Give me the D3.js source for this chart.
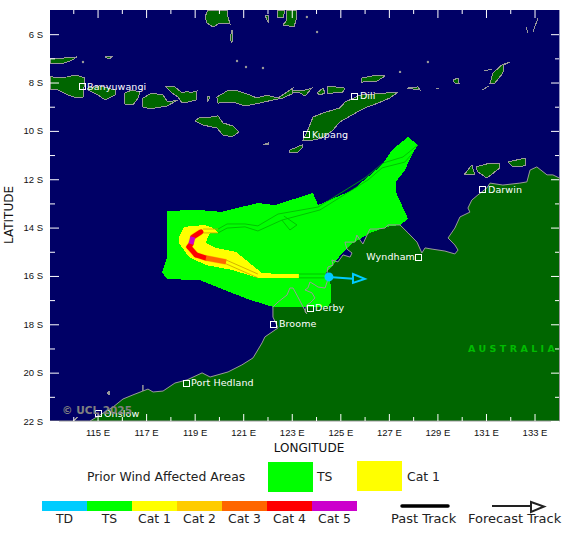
<!DOCTYPE html>
<html>
<head>
<meta charset="utf-8">
<script src="https://cdn.jsdelivr.net/npm/d3@7"></script>
<style>
  body { margin: 0; background: #fff; }
  svg { display: block; font-family: "DejaVu Sans", sans-serif; }
  .land { fill: #006600; stroke: #999; stroke-width: 1; shape-rendering: crispEdges; }
  .tick-white line { stroke: #fff; }
  .tick-white text { fill: #111; font-size: 9.5px; }
  .tick-white path { stroke: none; }
  .city { fill: #fff; font-size: 9.5px; letter-spacing: 0.1px; }
</style>
</head>
<body>
<div id="chart"></div>
<script>
const width = 580;
const height = 534;

// lon, lat pairs
const mainland = [[134,-11.95],[133.73,-11.82],[133.49,-11.82],[133.07,-11.49],[132.79,-11.62],[132.66,-12.11],[132.37,-12.16],[131.67,-12.24],[131.14,-12.16],[131.01,-12.36],[130.64,-12.65],[130.39,-12.86],[130.23,-13.19],[130.31,-13.36],[129.90,-13.56],[129.69,-14.02],[129.41,-14.43],[129.69,-14.72],[129.82,-14.93],[129.69,-15.09],[129.28,-14.97],[128.75,-14.89],[128.46,-14.84],[128.33,-15.05],[128.13,-14.60],[127.76,-14.22],[127.43,-13.89],[126.93,-13.89],[126.81,-14.02],[126.48,-14.06],[126.19,-14.06],[126.11,-14.22],[125.90,-14.68],[125.78,-14.51],[125.65,-14.31],[125.57,-14.60],[125.16,-14.60],[125.24,-14.89],[125.45,-15.05],[125.37,-15.22],[125.08,-15.13],[124.87,-15.42],[124.62,-15.34],[124.67,-15.55],[124.46,-15.63],[124.42,-15.88],[124.50,-16.04],[124.42,-16.25],[124.34,-16.50],[124.05,-16.46],[123.92,-16.37],[123.72,-16.25],[123.63,-16.50],[123.51,-16.58],[123.80,-16.70],[123.92,-16.91],[123.72,-17.12],[123.59,-17.20],[123.51,-17.49],[123.59,-17.57],[123.39,-17.20],[123.22,-16.87],[123.02,-16.50],[122.89,-16.50],[122.77,-16.79],[122.40,-17.08],[122.19,-17.28],[122.19,-17.70],[122.40,-18.15],[121.86,-18.52],[121.74,-18.77],[121.37,-19.39],[120.91,-19.68],[120.34,-19.97],[119.60,-20.18],[119.27,-20.01],[118.65,-20.30],[118.15,-20.43],[117.66,-20.76],[117.25,-20.80],[117.04,-20.68],[116.83,-20.76],[116.83,-20.51],[116.83,-20.76],[116.42,-20.92],[116.01,-21.09],[115.60,-21.42],[115.06,-21.75],[114.65,-22],[134,-22]];

const islands = [
  [[113,-6.99],[113.54,-6.99],[114.11,-6.94],[113.91,-7.07],[113.62,-7.19],[113,-7.23]],
  [[115.27,-6.94],[115.43,-6.90],[115.56,-6.94],[115.43,-7.03]],
  [[113,-7.73],[113.21,-7.81],[113.70,-7.77],[114.07,-7.69],[114.44,-7.81],[114.36,-8.60],[114.11,-8.64],[113.74,-8.52],[113.33,-8.31],[113,-8.27]],
  [[114.53,-8.23],[115.06,-8.14],[115.68,-8.31],[115.68,-8.52],[115.27,-8.72],[114.98,-8.52],[114.57,-8.31]],
  [[116.09,-8.43],[116.38,-8.31],[116.71,-8.39],[116.63,-8.64],[116.42,-8.93],[116.09,-8.89],[116.05,-8.64]],
  [[116.83,-8.64],[117.20,-8.43],[117.66,-8.52],[117.86,-8.81],[118.28,-8.72],[117.82,-8.97],[117.12,-9.09],[116.83,-9.01]],
  [[117.78,-8.18],[118.15,-8.18],[118.44,-8.43],[118.69,-8.35],[118.77,-8.43],[119.06,-8.35],[119.02,-8.72],[118.69,-8.81],[118.44,-8.85],[118.28,-8.60],[118.03,-8.43]],
  [[119.88,-8.60],[120.30,-8.35],[120.75,-8.35],[121.24,-8.52],[121.53,-8.64],[121.94,-8.52],[122.40,-8.64],[122.77,-8.39],[123.02,-8.23],[122.98,-8.47],[122.60,-8.64],[122.19,-8.72],[121.66,-8.85],[121.04,-8.97],[120.54,-8.81],[119.93,-8.85]],
  [[119.49,-8.56],[119.60,-8.60],[119.50,-8.77]],
  [[122.98,-8.31],[123.39,-8.35],[123.80,-8.23],[123.51,-8.56],[123.31,-8.43],[122.98,-8.43]],
  [[124.01,-8.43],[124.25,-8.23],[124.34,-8.43],[124.13,-8.52]],
  [[124.46,-8.18],[124.75,-8.18],[125.16,-8.23],[125.08,-8.39],[124.67,-8.43],[124.46,-8.47]],
  [[118.98,-9.59],[119.18,-9.43],[119.60,-9.43],[119.93,-9.38],[120.13,-9.67],[120.54,-9.80],[120.79,-10.05],[120.50,-10.25],[120.13,-10.17],[119.88,-9.88],[119.31,-9.76]],
  [[121.78,-10.58],[121.99,-10.50],[121.99,-10.58]],
  [[119.51,-5],[120.30,-5],[120.34,-5.29],[120.42,-5.58],[120.01,-5.54],[119.72,-5.70],[119.47,-5.54],[119.39,-5.29]],
  [[121.86,-5.21],[122.03,-5.21],[121.99,-5.50]],
  [[122.40,-5],[122.69,-5],[122.60,-5.33],[122.36,-5.33]],
  [[122.77,-5],[123.14,-5],[123.18,-5.29],[123.06,-5.70],[122.60,-5.62],[122.77,-5.41]],
  [[120.50,-5.83],[120.54,-5.95],[120.50,-6.36],[120.42,-6.20]],
  [[125.86,-7.81],[126.48,-7.69],[126.81,-7.73],[126.48,-7.94],[125.86,-7.98]],
  [[127.72,-8.23],[128.17,-8.18],[128.25,-8.31]],
  [[128.91,-8.23],[129.03,-8.27]],
  [[129.61,-7.90],[129.82,-7.81],[129.86,-8.02],[129.69,-8.02]],
  [[131.14,-8.02],[131.26,-7.61],[131.63,-7.27],[131.96,-7.15],[131.71,-7.27],[131.67,-7.61],[131.34,-8.02]],
  [[130.89,-7.52],[131.22,-7.44]],
  [[130.81,-8.31],[131.10,-8.14]],
  [[132.62,-5.70],[132.70,-5.95]],
  [[133.12,-5.33],[132.91,-5.91]],
  [[123.63,-9.96],[123.84,-9.43],[124.25,-9.26],[124.95,-9.05],[125.16,-8.81],[125.78,-8.52],[126.89,-8.43],[127.30,-8.43],[127.01,-8.64],[126.52,-8.85],[125.98,-9.05],[125.45,-9.34],[124.95,-9.63],[124.67,-9.96],[124.25,-10.29],[123.84,-10.38],[123.43,-10.38]],
  [[122.89,-10.79],[123.39,-10.58],[123.39,-10.71],[123.18,-10.91],[122.89,-10.91]],
  [[130.07,-11.82],[130.39,-11.41],[130.52,-11.82]],
  [[130.56,-11.49],[131.14,-11.33],[131.55,-11.33],[131.55,-11.53],[131.01,-11.95],[130.64,-11.70]],
  [[131.88,-11.29],[132.25,-11.20],[132.58,-11.12],[132.62,-11.41],[132.37,-11.49],[132.08,-11.49]],
  [[115.35,-20.84],[115.47,-20.76],[115.47,-20.92]],
  [[113.95,-22],[114.15,-21.83],[114.05,-21.95]]
];

const specks = [[114.36,-7.15],[121.78,-7.40],[121.08,-7.36],[120.71,-7.11],[128.58,-7.15],[127.43,-7.56],[123.59,-5.29],[124.01,-5.91]];

// prior wind affected areas
const swathTS = [[117.82,-13.31],[119.10,-13.27],[120.09,-13.35],[121.57,-12.98],[122.27,-13.07],[123.84,-12.57],[124.05,-13.07],[125.49,-12.44],[125.86,-12.11],[126.69,-11.41],[127.10,-10.79],[127.76,-10.25],[128.17,-10.58],[127.96,-10.91],[127.63,-11.62],[127.26,-12.11],[127.26,-12.53],[127.76,-13.64],[127.43,-13.89],[126.89,-13.97],[126.19,-14.22],[125.49,-14.64],[125.04,-15.05],[124.67,-15.55],[124.38,-15.88],[124.58,-16.37],[124.58,-17.08],[124.46,-17.28],[123.30,-17.28],[122.19,-17.28],[121.24,-16.99],[119.88,-16.46],[119.18,-16.17],[117.82,-16.13],[117.62,-15.84],[117.82,-15.26]];
const swathCat1 = [[118.52,-13.97],[119.39,-13.89],[119.72,-14.02],[119.93,-14.22],[119.60,-14.22],[119.51,-14.39],[119.43,-14.64],[119.84,-14.84],[120.67,-15.01],[121.74,-15.88],[123.22,-15.96],[123.22,-16.08],[121.57,-16.08],[120.50,-15.75],[119.43,-15.55],[118.73,-15.22],[118.32,-14.64],[118.32,-14.39]];

// thin outlines of the earlier track corridor
const corridorNorth = [[119.93,-14.06],[120.30,-13.85],[121.04,-13.85],[121.57,-13.93],[122.40,-13.44],[124.05,-13.15],[125.98,-11.95],[126.73,-11.33],[127.55,-11.08],[128.17,-10.58]];
const corridorSouth = [[119.93,-14.22],[120.30,-14.02],[121.04,-13.97],[121.57,-14.14],[122.56,-13.69],[124.13,-13.27],[126.11,-12.03],[126.69,-11.53],[127.63,-11.29],[127.96,-10.91]];
const corridorSpur = [[122.56,-13.69],[122.89,-14.10],[123.18,-13.89],[122.64,-13.52]];
const corridorTS = [[[123.26,-15.92],[124.42,-15.92]],[[123.26,-16.08],[124.42,-16.08]]];
const corridorCat = [[[119.31,-14.06],[119.93,-14.06]],[[119.31,-14.22],[119.93,-14.22]],[[120.26,-15.34],[121.57,-15.92]],[[120.26,-15.50],[121.57,-16.08]]];

// past track, one entry per stretch
const trackPoints = [[119.22,-14.18],[118.89,-14.39],[118.81,-14.68],[118.73,-14.80],[119.02,-15.13],[119.43,-15.26],[120.26,-15.42]];
const trackCats = ["Cat 4","Cat 5","Cat 4","Cat 4","Cat 4","Cat 3"];
const cat1Stretch = [[121.57,-16.00],[123.26,-16.00]];
const stormNow = [124.50,-16.04];
const forecastLine = [[124.50,-16.04],[125.49,-16.12]];
const forecastHead = [[125.49,-15.92],[125.98,-16.12],[125.49,-16.29]];

const cityNames = ["Banyuwangi","Dili","Kupang","Darwin","Wyndham","Derby","Broome","Port Hedland","Onslow"];
const cityLons = [114.32,125.57,123.59,130.85,128.21,123.72,122.23,118.61,115.02];
const cityLats = [-8.18,-8.56,-10.17,-12.44,-15.22,-17.33,-17.99,-20.43,-21.71];

const lonMajor = d3.range(115, 134, 2);
const lonMinor = d3.range(114, 134, 2);
const latMajor = d3.range(6, 23, 2);
const latMinor = d3.range(5, 22, 2).slice(1);

const categories = ["TD","TS","Cat 1","Cat 2","Cat 3","Cat 4","Cat 5"];
const catColors = ["#00ccff","#00ff00","#ffff00","#ffcc00","#ff6600","#ff0000","#cc00cc"];
const priorLabels = ["TS","Cat 1"];

const x = d3.scaleLinear().domain([113, 134]).range([50, 559.4]);
const y = d3.scaleLinear().domain([-5, -22]).range([10, 421]);
// ticks sit about a pixel left of the map in the reference
const xTicks = d3.scaleLinear().domain([113, 134]).range([49, 558.8]);
const color = d3.scaleOrdinal().domain(categories).range(catColors);

const path = d3.line().x(d => x(d[0])).y(d => y(d[1]));
const closed = pts => path(pts) + "Z";

const svg = d3.create("svg").attr("width", width).attr("height", height);

svg.append("defs").append("clipPath").attr("id", "map")
  .append("rect").attr("x", 50).attr("y", 10).attr("width", 509.4).attr("height", 411);

const map = svg.append("g").attr("clip-path", "url(#map)");

map.append("rect").attr("x", 50).attr("y", 10).attr("width", 510).attr("height", 411).attr("fill", "#000066");

map.append("path").attr("d", closed(mainland)).attr("fill", "#006600").style("shape-rendering", "crispEdges");
map.selectAll(".island").data(islands).join("path")
  .attr("class", "land island")
  .attr("d", closed);
map.selectAll(".speck").data(specks).join("circle")
  .attr("cx", d => x(d[0])).attr("cy", d => y(d[1])).attr("r", 1.2).attr("fill", "#999");

// swath goes over the land, the coast goes back on top
map.append("path").attr("d", closed(swathTS)).attr("fill", color("TS")).style("shape-rendering", "crispEdges");
map.append("path").attr("d", closed(swathCat1)).attr("fill", color("Cat 1")).style("shape-rendering", "crispEdges");
map.append("path").attr("d", path(mainland.slice(0, -1))).attr("fill", "none").attr("stroke", "#999").attr("stroke-width", 1);

[corridorNorth, corridorSouth, corridorSpur, ...corridorTS].forEach(c => {
  map.append("path").attr("d", path(c)).attr("fill", "none").attr("stroke", "#00b400").attr("stroke-width", 0.8);
});
map.append("path").attr("d", path(cat1Stretch)).attr("fill", "none").attr("stroke", color("Cat 1")).attr("stroke-width", 4);
corridorCat.forEach(c => {
  map.append("path").attr("d", path(c)).attr("fill", "none").attr("stroke", "#c8a000").attr("stroke-width", 0.8);
});

map.append("path").attr("d", path(trackPoints)).attr("fill", "none").attr("stroke", color("Cat 2")).attr("stroke-width", 6);
// Cat 4 first so its round caps do not hide the short Cat 5 stretch
trackCats.forEach((cat, i) => {
  if (cat !== "Cat 4") return;
  map.append("path").attr("d", path(trackPoints.slice(i, i + 2)))
    .attr("fill", "none").attr("stroke", color(cat)).attr("stroke-width", 5).attr("stroke-linecap", "round");
});
trackCats.forEach((cat, i) => {
  if (cat === "Cat 4") return;
  map.append("path").attr("d", path(trackPoints.slice(i, i + 2)))
    .attr("fill", "none").attr("stroke", color(cat)).attr("stroke-width", 5);
});

map.append("path").attr("d", path(forecastLine)).attr("fill", "none").attr("stroke", color("TD")).attr("stroke-width", 2);
map.append("path").attr("d", closed(forecastHead)).attr("fill", "none").attr("stroke", color("TD")).attr("stroke-width", 2);
map.append("circle").attr("cx", x(stormNow[0])).attr("cy", y(stormNow[1])).attr("r", 4.5).attr("fill", color("TD"));

// cities
const cities = map.selectAll(".cityg").data(cityNames).join("g");
cities.append("rect")
  .attr("x", (d, i) => x(cityLons[i]) - 3).attr("y", (d, i) => y(cityLats[i]) - 3)
  .attr("width", 6).attr("height", 6)
  .attr("fill", "none").attr("stroke", "#fff").attr("stroke-width", 1).style("shape-rendering", "crispEdges");
cities.append("text")
  .attr("class", "city")
  .attr("x", (d, i) => d === "Wyndham" ? x(cityLons[i]) - 4 : x(cityLons[i]) + 5)
  .attr("y", (d, i) => y(cityLats[i]) + 3)
  .attr("text-anchor", d => d === "Wyndham" ? "end" : "start")
  .text(d => d);

map.append("text").attr("x", 468).attr("y", 352)
  .attr("fill", "#00bb00").style("font-size", "9.5px").style("font-weight", "bold").style("letter-spacing", "3.4px")
  .text("AUSTRALIA");
map.append("text").attr("x", 62).attr("y", 414)
  .attr("fill", "#808080").style("font-size", "10.5px").style("font-weight", "bold")
  .text("© UCL 2025");

// frame on the land side
svg.append("path").attr("d", `M50,421H559.5V178`).attr("fill", "none").attr("stroke", "#999").attr("stroke-width", 1);

// ticks
svg.append("g").attr("class", "tick-white")
  .attr("transform", "translate(0,421)")
  .call(d3.axisBottom(xTicks).tickValues(lonMajor).tickSize(-7).tickPadding(8).tickFormat(d => d + " E"));
svg.append("g").attr("class", "tick-white")
  .attr("transform", "translate(0,421)")
  .call(d3.axisBottom(xTicks).tickValues(lonMinor).tickSize(-4).tickFormat(""));
svg.append("g").attr("class", "tick-white")
  .attr("transform", "translate(0,10)")
  .call(d3.axisTop(xTicks).tickValues(lonMajor).tickSize(-8).tickFormat(""));
svg.append("g").attr("class", "tick-white")
  .attr("transform", "translate(0,10)")
  .call(d3.axisTop(xTicks).tickValues(lonMinor).tickSize(-4).tickFormat(""));
svg.append("g").attr("class", "tick-white")
  .attr("transform", "translate(50,0)")
  .call(d3.axisLeft(y).tickValues(latMajor.map(d => -d)).tickSize(-9).tickPadding(7).tickFormat(d => -d + " S"));
svg.append("g").attr("class", "tick-white")
  .attr("transform", "translate(50,0)")
  .call(d3.axisLeft(y).tickValues(latMinor.map(d => -d)).tickSize(-5).tickFormat(""));
svg.append("g").attr("class", "tick-white")
  .attr("transform", "translate(559,0)")
  .call(d3.axisRight(y).tickValues(latMajor.map(d => -d)).tickSize(-8).tickFormat(""));
svg.append("g").attr("class", "tick-white")
  .attr("transform", "translate(559,0)")
  .call(d3.axisRight(y).tickValues(latMinor.map(d => -d)).tickSize(-4).tickFormat(""));

svg.append("text").attr("x", 309).attr("y", 452).attr("text-anchor", "middle")
  .attr("fill", "#111").style("font-size", "12px").text("LONGITUDE");
svg.append("text").attr("transform", "translate(13,215) rotate(-90)").attr("text-anchor", "middle")
  .attr("fill", "#111").style("font-size", "12px").text("LATITUDE");

// legends
const legendText = (tx, ty, s, anchor, size) => svg.append("text")
  .attr("x", tx).attr("y", ty).attr("text-anchor", anchor || "start")
  .attr("fill", "#222").style("font-size", size || "12.4px").text(s);

legendText(87, 481, "Prior Wind Affected Areas");
svg.append("rect").attr("x", 268).attr("y", 462).attr("width", 45).attr("height", 30).attr("fill", color(priorLabels[0]));
legendText(317, 481, priorLabels[0]);
svg.append("rect").attr("x", 357).attr("y", 461).attr("width", 45).attr("height", 30).attr("fill", color(priorLabels[1]));
legendText(407, 481, priorLabels[1]);

const band = d3.scaleBand().domain(categories).range([42, 357]);
svg.selectAll(".scale-cell").data(categories).join("rect")
  .attr("x", d => band(d)).attr("y", 501).attr("width", band.bandwidth()).attr("height", 10)
  .attr("fill", d => color(d));
categories.forEach(c => legendText(band(c) + band.bandwidth() / 2, 523, c, "middle"));

svg.append("line").attr("x1", 402).attr("x2", 448).attr("y1", 506).attr("y2", 506)
  .attr("stroke", "#000").attr("stroke-width", 3.5).attr("stroke-linecap", "round");
legendText(391, 523, "Past Track", "start", "13px");
svg.append("line").attr("x1", 492).attr("x2", 531).attr("y1", 506).attr("y2", 506)
  .attr("stroke", "#222").attr("stroke-width", 2);
svg.append("path").attr("d", "M531,502L544,506.5L531,512Z").attr("fill", "none").attr("stroke", "#222").attr("stroke-width", 2);
legendText(468, 523, "Forecast Track", "start", "13px");

document.getElementById("chart").append(svg.node());
</script>
</body>
</html>
